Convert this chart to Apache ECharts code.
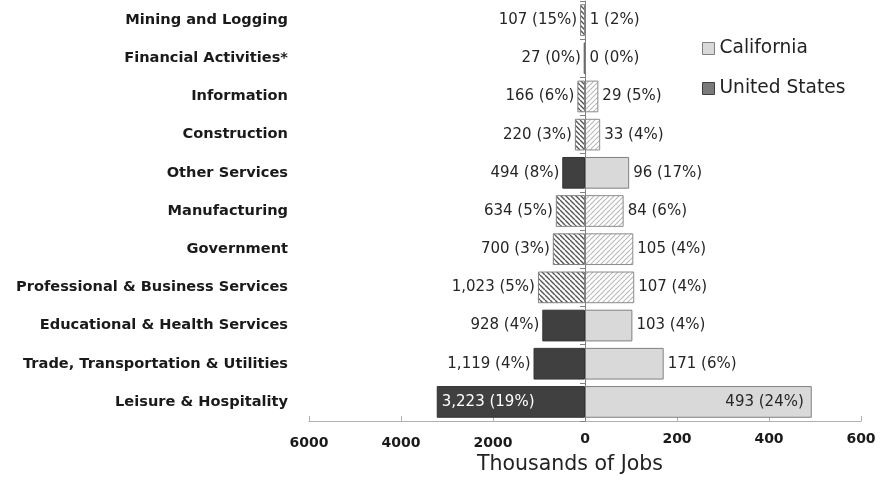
<!DOCTYPE html>
<html>
<head>
<meta charset="utf-8">
<script src="https://cdn.jsdelivr.net/npm/echarts@6/dist/echarts.min.js"></script>
<style>
  html, body { margin: 0; padding: 0; background: #fff; }
  #chart { width: 892px; height: 485px; }
</style>
</head>
<body>
<div id="chart"></div>
<script>
var categories = ['Mining and Logging', 'Financial Activities*', 'Information', 'Construction',
  'Other Services', 'Manufacturing', 'Government', 'Professional & Business Services',
  'Educational & Health Services', 'Trade, Transportation & Utilities', 'Leisure & Hospitality'];
var usJobs = [107, 27, 166, 220, 494, 634, 700, 1023, 928, 1119, 3223];
var usPct = [15, 0, 6, 3, 8, 5, 3, 5, 4, 4, 19];
var caJobs = [1, 0, 29, 33, 96, 84, 105, 107, 103, 171, 493];
var caPct = [2, 0, 5, 4, 17, 6, 4, 4, 4, 6, 24];
// true = bar drawn with hatching
var hatched = [true, false, true, true, false, true, true, true, false, false, false];
var usTicks = [0, 2000, 4000, 6000];
var caTicks = [0, 200, 400, 600];

var FONT = 'DejaVu Sans';

// diagonal hatch tile
function makeHatch(back, lineColor, lw) {
  var s = 5;
  var c = document.createElement('canvas');
  c.width = s; c.height = s;
  var ctx = c.getContext('2d');
  ctx.fillStyle = '#fff';
  ctx.fillRect(0, 0, s, s);
  ctx.strokeStyle = lineColor;
  ctx.lineWidth = lw;
  ctx.beginPath();
  for (var k = -1; k <= 1; k++) {
    if (back) {
      ctx.moveTo(k * s, 0); ctx.lineTo(k * s + s, s);
    } else {
      ctx.moveTo(k * s, s); ctx.lineTo(k * s + s, 0);
    }
  }
  ctx.stroke();
  return { image: c, repeat: 'repeat' };
}
var usHatch = makeHatch(true, '#555', 1.4);
var caHatch = makeHatch(false, '#b8b8b8', 1.1);

function fmt(v, p) {
  return v.toLocaleString('en-US') + ' (' + p + '%)';
}

var last = categories.length - 1;
var usData = usJobs.map(function (v, i) {
  var item = {
    value: v,
    itemStyle: hatched[i]
      ? { color: usHatch, borderColor: '#808080', borderWidth: 1 }
      : { color: '#404040', borderColor: '#333', borderWidth: 1 },
    label: { formatter: fmt(v, usPct[i]) }
  };
  if (i === last) {
    item.label.position = 'insideLeft';
    item.label.distance = 5;
    item.label.color = '#fff';
  }
  return item;
});
var caData = caJobs.map(function (v, i) {
  var item = {
    value: v,
    itemStyle: hatched[i]
      ? { color: caHatch, borderColor: '#8c8c8c', borderWidth: 1 }
      : { color: '#d9d9d9', borderColor: '#808080', borderWidth: 1 },
    label: { formatter: fmt(v, caPct[i]) }
  };
  if (i === last) {
    item.label.position = 'insideRight';
    item.label.distance = 8;
  }
  return item;
});

var chart = echarts.init(document.getElementById('chart'));
var option = {
  animation: false,
  grid: [
    { left: 309, width: 276, top: 1, height: 420 },
    { left: 585, width: 276, top: 1, height: 420 }
  ],
  legend: {
    orient: 'vertical',
    left: 697,
    top: 34,
    itemWidth: 12,
    itemHeight: 12,
    itemGap: 21,
    textStyle: { fontFamily: FONT, fontSize: 18.6, color: '#222' },
    data: [
      { name: 'California', icon: 'rect', itemStyle: { color: '#d9d9d9', borderColor: '#808080', borderWidth: 1 } },
      { name: 'United States', icon: 'rect', itemStyle: { color: '#7a7a7a', borderColor: '#404040', borderWidth: 1 } }
    ]
  },
  xAxis: [
    {
      gridIndex: 0, type: 'value', inverse: true,
      min: usTicks[0], max: usTicks[usTicks.length - 1], interval: usTicks[1] - usTicks[0],
      splitLine: { show: false },
      axisLine: { show: true, lineStyle: { color: '#b0b0b0' } },
      axisTick: { show: true, inside: true, length: 5, lineStyle: { color: '#b0b0b0' } },
      axisLabel: { fontFamily: FONT, fontSize: 14, fontWeight: 'bold', color: '#1a1a1a', margin: 15,
        showMinLabel: false,
        formatter: function (v) { return String(v); } }
    },
    {
      gridIndex: 1, type: 'value',
      min: caTicks[0], max: caTicks[caTicks.length - 1], interval: caTicks[1] - caTicks[0],
      splitLine: { show: false },
      axisLine: { show: true, lineStyle: { color: '#b0b0b0' } },
      axisTick: { show: true, inside: true, length: 5, lineStyle: { color: '#b0b0b0' } },
      axisLabel: { fontFamily: FONT, fontSize: 14, fontWeight: 'bold', color: '#1a1a1a', margin: 11 }
    }
  ],
  yAxis: [
    {
      gridIndex: 0, type: 'category', inverse: true, data: categories, position: 'left',
      axisLine: { show: false }, axisTick: { show: false },
      axisLabel: { fontFamily: FONT, fontSize: 14.6, fontWeight: 'bold', color: '#1a1a1a', margin: 21 }
    },
    {
      gridIndex: 1, type: 'category', inverse: true, data: categories, position: 'left', z: 5,
      axisLine: { show: true, lineStyle: { color: '#808080' } },
      axisTick: { show: true, length: 5, lineStyle: { color: '#808080' } },
      axisLabel: { show: false }
    }
  ],
  graphic: [{
    type: 'text', left: 477, top: 454,
    style: { text: 'Thousands of Jobs', fontFamily: FONT, fontSize: 20.5, fill: '#222' }
  }],
  series: [
    {
      name: 'United States', type: 'bar', xAxisIndex: 0, yAxisIndex: 0,
      barCategoryGap: '17%',
      itemStyle: { color: '#404040' },
      label: { show: true, position: 'left', distance: 3, fontFamily: FONT, fontSize: 15, color: '#262626' },
      data: usData
    },
    {
      name: 'California', type: 'bar', xAxisIndex: 1, yAxisIndex: 1,
      barCategoryGap: '17%',
      itemStyle: { color: '#d9d9d9' },
      label: { show: true, position: 'right', distance: 4, fontFamily: FONT, fontSize: 15, color: '#262626' },
      data: caData
    }
  ]
};
chart.setOption(option);
</script>
</body>
</html>
